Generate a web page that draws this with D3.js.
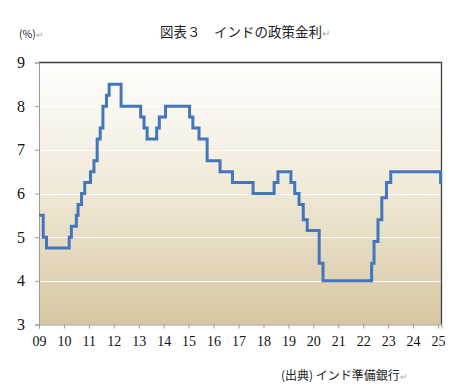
<!DOCTYPE html>
<html>
<head>
<meta charset="utf-8">
<script src="https://cdn.jsdelivr.net/npm/d3@7"></script>
<style>
  body { margin: 0; background: #ffffff; }
  svg { display: block; }
</style>
</head>
<body>
<svg id="chart" width="461" height="391"></svg>
<script>
// Policy (repo) rate change dates and values (%)
const changeDates = [
  "2009-01-01","2009-03-04","2009-04-21","2010-03-19","2010-04-20","2010-07-02","2010-07-27",
  "2010-09-16","2010-11-02","2011-01-25","2011-03-17","2011-05-03","2011-06-16","2011-07-26",
  "2011-09-16","2011-10-25","2012-04-17","2013-01-29","2013-03-19","2013-05-03","2013-09-20",
  "2013-10-29","2014-01-28","2015-01-15","2015-03-04","2015-06-02","2015-09-29","2016-04-05",
  "2016-10-04","2017-08-02","2018-06-06","2018-08-01","2019-02-07","2019-04-04","2019-06-06",
  "2019-08-07","2019-10-04","2020-03-27","2020-05-22","2022-05-04","2022-06-08","2022-08-05",
  "2022-09-30","2022-12-07","2023-02-08","2025-02-07","2025-02-20"
];
const rates = [
  5.5, 5.0, 4.75, 5.0, 5.25, 5.5, 5.75,
  6.0, 6.25, 6.5, 6.75, 7.25, 7.5, 8.0,
  8.25, 8.5, 8.0, 7.75, 7.5, 7.25, 7.5,
  7.75, 8.0, 7.75, 7.5, 7.25, 6.75, 6.5,
  6.25, 6.0, 6.25, 6.5, 6.25, 6.0, 5.75,
  5.4, 5.15, 4.4, 4.0, 4.4, 4.9, 5.4,
  5.9, 6.25, 6.5, 6.25, 6.25
];
const xTickLabels = ["09","10","11","12","13","14","15","16","17","18","19","20","21","22","23","24","25"];
const yTicks = [3, 4, 5, 6, 7, 8, 9];
const title = "図表３　インドの政策金利";
const unitLabel = "(%)";
const sourceLabel = "(出典) インド準備銀行";

const parse = d3.timeParse("%Y-%m-%d");
const data = changeDates.map((d, i) => ({ date: parse(d), value: rates[i] }));

const svg = d3.select("#chart");
const L = 39, R = 441.5, T = 62.5, B = 324.5;
const serif = '"Liberation Serif", "DejaVu Serif", serif';

const x = d3.scaleTime()
  .domain([parse("2009-01-01"), parse("2025-02-20")])
  .range([L, R]);
const y = d3.scaleLinear().domain([3, 9]).range([B, T]);

// gradient background
const defs = svg.append("defs");
const grad = defs.append("linearGradient").attr("id", "bg")
  .attr("x1", 0).attr("y1", 0).attr("x2", 0).attr("y2", 1);
grad.append("stop").attr("offset", "0%").attr("stop-color", "#fefefd");
grad.append("stop").attr("offset", "45%").attr("stop-color", "#f1ebdb");
grad.append("stop").attr("offset", "100%").attr("stop-color", "#d6c7a1");

svg.append("rect").attr("x", L).attr("y", T).attr("width", R - L).attr("height", B - T)
  .attr("fill", "url(#bg)");

// gridlines
svg.append("g").selectAll("line").data(yTicks.filter(v => v > 3 && v < 9)).join("line")
  .attr("x1", L).attr("x2", R)
  .attr("y1", d => Math.round(y(d)) + 0.5).attr("y2", d => Math.round(y(d)) + 0.5)
  .attr("stroke", "#ffffff").attr("stroke-width", 1.2);

// border top & right
svg.append("path")
  .attr("d", `M${L},${T}H${R}V${B}`)
  .attr("fill", "none").attr("stroke", "#3f3f3f").attr("stroke-width", 1.3);

// y axis
const yAxis = d3.axisLeft(y).tickValues(yTicks).tickSize(4).tickFormat(d3.format("d"));
const gy = svg.append("g").attr("transform", `translate(${L},0)`).call(yAxis)
  .attr("font-family", serif).attr("font-size", 16);
gy.select(".domain").attr("stroke", "#9a9a9a");
gy.selectAll(".tick line").attr("stroke", "#9a9a9a");
gy.selectAll(".tick text")
  .attr("x", -18).attr("text-anchor", "middle")
  .style("font-family", serif).style("font-size", "16px").attr("fill", "#111");

// x axis
const xTickDates = xTickLabels.map(s => parse("20" + s + "-01-01"));
const xAxis = d3.axisBottom(x).tickValues(xTickDates).tickSize(4)
  .tickFormat((d, i) => xTickLabels[i]);
const gx = svg.append("g").attr("transform", `translate(0,${B})`).call(xAxis)
  .attr("font-family", serif).attr("font-size", 14);
gx.select(".domain").attr("stroke", "#9a9a9a");
gx.selectAll(".tick line").attr("stroke", "#9a9a9a");
gx.selectAll(".tick text")
  .attr("y", 12)
  .style("font-family", serif).style("font-size", "14px").attr("fill", "#111");

// line
const line = d3.line()
  .x(d => x(d.date)).y(d => y(d.value))
  .curve(d3.curveStepAfter);
svg.append("path").datum(data)
  .attr("d", line)
  .attr("fill", "none").attr("stroke", "#4276bd").attr("stroke-width", 3)
  .attr("stroke-linejoin", "miter");

// texts
const cjk = "'Noto Sans CJK JP', 'Noto Sans', sans-serif";
const t = svg.append("text").attr("x", 160).attr("y", 37)
  .attr("font-family", cjk).attr("font-size", 13.5).attr("fill", "#222");
t.append("tspan").text(title);
t.append("tspan").attr("fill", "#aaa").attr("font-size", 10).text("↵");

const u = svg.append("text").attr("x", 19).attr("y", 38)
  .attr("font-family", cjk).attr("font-size", 10.5).attr("fill", "#222");
u.append("tspan").text(unitLabel);
u.append("tspan").attr("fill", "#aaa").attr("font-size", 9).text("↵");

const s = svg.append("text").attr("x", 281).attr("y", 380)
  .attr("font-family", cjk).attr("font-size", 12).attr("fill", "#222");
s.append("tspan").text(sourceLabel);
s.append("tspan").attr("fill", "#aaa").attr("font-size", 9).text("↵");
</script>
</body>
</html>
